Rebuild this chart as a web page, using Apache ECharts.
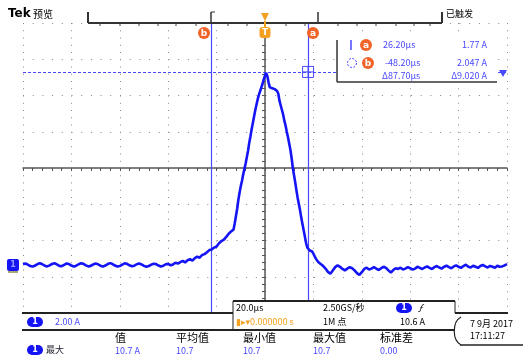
<!DOCTYPE html>
<html><head><meta charset="utf-8">
<script src="https://cdn.jsdelivr.net/npm/echarts@6/dist/echarts.min.js"></script>
<style>html,body{margin:0;padding:0;background:#fff}#c{width:523px;height:356px}</style>
</head><body><div id="c"></div>
<script>
// ---- data (time in µs, current in A) ----
const baselineBefore = [[-100,0.04],[-99,0.08],[-98,0.02],[-97,-0.06],[-96,-0.09],[-95,-0.03],[-94,0.05],[-93,0.09],[-92,0.04],[-91,-0.04],[-90,-0.08],[-89,-0.02],[-88,0.06],[-87,0.10],[-86,0.03],[-85,-0.05],[-84,-0.07],[-83,0.01],[-82,0.08],[-81,0.05],[-80,-0.03],[-79,-0.09],[-78,-0.04],[-77,0.04],[-76,0.09],[-75,0.06],[-74,-0.02],[-73,-0.08],[-72,-0.05],[-71,0.03],[-70,0.08],[-69,0.04],[-68,-0.04],[-67,-0.09],[-66,-0.03],[-65,0.05],[-64,0.10],[-63,0.05],[-62,-0.03],[-61,-0.08],[-60,-0.06],[-59,0.02],[-58,0.09],[-57,0.06],[-56,-0.02],[-55,-0.07],[-54,-0.04],[-53,0.04],[-52,0.08],[-51,0.03],[-50,-0.05],[-49,-0.10],[-48,-0.06],[-47,0.02],[-46,0.07],[-45,0.05],[-44,-0.03],[-43,-0.08],[-42,-0.04],[-41,0.04],[-40,0.06]];
const risingEdge = [[-39,-0.02],[-38,0.03],[-37,0.12],[-36,0.08],[-35,0.16],[-34,0.22],[-33,0.14],[-32,0.26],[-31,0.32],[-30,0.24],[-29,0.38],[-28,0.46],[-27,0.40],[-26,0.55],[-25,0.60],[-24,0.70],[-23,0.82],[-22,0.86],[-21,0.96],[-20,1.02],[-19,1.20],[-18,1.32],[-17,1.40],[-16,1.55],[-15,1.72],[-14,1.85],[-13,1.96],[-12.5,2.30],[-12,2.70],[-11.5,3.10],[-11,3.60],[-10.5,4.00],[-10,4.35],[-9.5,4.65],[-9,5.00],[-8.5,5.30],[-8,5.60],[-7.5,5.95],[-7,6.30],[-6.5,6.75],[-6,7.10],[-5.5,7.50],[-5,7.85],[-4.5,8.20],[-4,8.55],[-3.5,8.85],[-3,9.15],[-2.5,9.40],[-2,9.60],[-1.5,9.80],[-1,10.00],[-0.5,10.25],[0,10.45],[0.5,10.60]];
const fallingEdge = [[1,10.40],[1.5,10.05],[2,9.80],[2.5,9.90],[3,9.75],[3.5,9.85],[4,9.70],[4.5,9.75],[5,9.60],[5.5,9.45],[6,9.05],[6.5,8.80],[7,8.55],[7.5,8.30],[8,7.95],[8.5,7.70],[9,7.35],[9.5,7.05],[10,6.70],[10.5,6.35],[11,5.90],[11.5,5.35],[12,4.95],[12.5,4.55],[13,4.10],[13.5,3.70],[14,3.35],[14.5,3.00],[15,2.60],[15.5,2.25],[16,1.90],[16.5,1.55],[17,1.20],[17.5,0.95],[18,0.85],[18.5,0.80],[19,0.70],[19.5,0.74],[20,0.62],[20.5,0.52],[21,0.35],[21.5,0.30],[22,0.16]];
const baselineAfter = [[23,0.05],[24,-0.05],[25,-0.20],[26,-0.38],[27,-0.48],[28,-0.30],[29,-0.12],[30,-0.02],[31,-0.10],[32,-0.22],[33,-0.30],[34,-0.20],[35,-0.12],[36,-0.18],[37,-0.30],[38,-0.45],[39,-0.55],[40,-0.40],[41,-0.22],[42,-0.15],[43,-0.25],[44,-0.20],[45,-0.12],[46,-0.20],[47,-0.28],[48,-0.18],[49,-0.10],[50,-0.16],[51,-0.30],[52,-0.42],[53,-0.28],[54,-0.18],[55,-0.22],[56,-0.15],[57,-0.25],[58,-0.20],[59,-0.12],[60,-0.18],[61,-0.26],[62,-0.20],[63,-0.10],[64,-0.16],[65,-0.22],[66,-0.14],[67,-0.08],[68,-0.16],[69,-0.22],[70,-0.12],[71,-0.06],[72,-0.14],[73,-0.20],[74,-0.10],[75,-0.04],[76,-0.12],[77,-0.18],[78,-0.08],[79,-0.02],[80,-0.10],[81,-0.16],[82,-0.06],[83,0.02],[84,-0.10],[85,-0.14],[86,-0.04],[87,-0.10],[88,-0.16],[89,-0.06],[90,0.00],[91,-0.08],[92,-0.14],[93,-0.05],[94,-0.10],[95,-0.15],[96,-0.04],[97,-0.10],[98,-0.08],[99,-0.02],[100,0.05]];

const cursorTimes = [17.8, -22.3];      // cursor a, cursor b (µs)
const cursorLevel = 10.65;              // horizontal cursor (A)
const timeRange = [-100, 100];          // 20 µs / div
const divRange = [-4, 4];               // 8 vertical divisions
const ampRange = [-2.65, 13.35];        // 2 A / div, ground at 0 A

const statHeaders = ['值', '平均值', '最小值', '最大值', '标准差'];
const statValues = ['10.7 A', '10.7', '10.7', '10.7', '0.00'];

const trace = baselineBefore.concat(risingEdge, fallingEdge, baselineAfter);

const BLUE = '#1414f5', CUR = '#4848ff', ORG = '#f06428', TORG = '#f5a020';
const FONT = '"Noto Sans CJK SC","DejaVu Sans",sans-serif';
const chart = echarts.init(document.getElementById('c'), null, {renderer: 'canvas'});

function txt(x, y, s, o) {
  return Object.assign({type: 'text', x: x, y: y, z: 110,
    style: Object.assign({text: s, fill: '#000', font: '10px ' + FONT, textVerticalAlign: 'middle'}, o || {})});
}
function ln(x1, y1, x2, y2, c, w, dash) {
  return {type: 'line', z: 100, shape: {x1: x1, y1: y1, x2: x2, y2: y2},
    style: {stroke: c || '#000', lineWidth: w || 1, lineDash: dash || null}};
}
function badge(cx, cy, letter, color) {
  return [{type: 'circle', z: 101, shape: {cx: cx, cy: cy, r: 6}, style: {fill: color}},
    txt(cx, cy + 0.5, letter, {fill: '#fff', font: 'bold 9px "DejaVu Sans",sans-serif', textAlign: 'center'})];
}

const g = [];
// top record bar
g.push(ln(88, 23, 442, 23, '#333', 2));
g.push(ln(88, 12, 88, 23, '#333', 2), ln(442, 12, 442, 23, '#333', 2));
g.push(ln(211, 12, 211, 23, '#333', 1.5), ln(211, 12, 215, 12, '#333', 1));
g.push(ln(318, 12, 318, 23, '#333', 1.5));
[100, 120, 139, 158, 176, 196, 228, 247, 286, 305, 338, 357, 376, 396, 414, 430].forEach(function (x) { g.push(ln(x, 23, x, 26, '#444', 1)); });
g.push(txt(8, 14, 'Tek', {font: 'bold 12px "DejaVu Sans",sans-serif'}));
g.push(txt(33, 14, '预览', {font: '10px ' + FONT}));
g.push(txt(446, 14, '已触发', {font: '9px ' + FONT}));
// trigger marker
g.push({type: 'polygon', z: 101, shape: {points: [[261, 13], [269, 13], [265, 21]]}, style: {fill: TORG}});
g.push(ln(265, 21, 265, 27, TORG, 2));
g.push({type: 'rect', z: 101, shape: {x: 259.5, y: 27, width: 11, height: 11, r: 3}, style: {fill: TORG}});
g.push(txt(265, 33, 'T', {fill: '#fff', font: 'bold 9px "DejaVu Sans",sans-serif', textAlign: 'center'}));
Array.prototype.push.apply(g, badge(204, 33, 'b', ORG));
Array.prototype.push.apply(g, badge(313, 33, 'a', ORG));
// cursor readout box
g.push({type: 'rect', z: 99, shape: {x: 337, y: 35, width: 160, height: 47}, style: {fill: '#fff'}});
g.push(ln(337, 40, 337, 82, '#333', 1.5), ln(337, 82, 497, 82, '#333', 1.5));
g.push(ln(351, 40, 351, 50, CUR, 1.5));
Array.prototype.push.apply(g, badge(366, 45, 'a', ORG));
g.push({type: 'circle', z: 100, shape: {cx: 352, cy: 63, r: 4.5}, style: {fill: 'none', stroke: CUR, lineWidth: 1, lineDash: [2, 1.5]}});
Array.prototype.push.apply(g, badge(368, 63, 'b', ORG));
g.push(txt(383, 45, '26.20µs', {fill: CUR, font: '9px ' + FONT}));
g.push(txt(487, 45, '1.77 A', {fill: CUR, font: '9px ' + FONT, textAlign: 'right'}));
g.push(txt(385, 63, '-48.20µs', {fill: CUR, font: '9px ' + FONT}));
g.push(txt(487, 63, '2.047 A', {fill: CUR, font: '9px ' + FONT, textAlign: 'right'}));
g.push(txt(382, 76, 'Δ87.70µs', {fill: CUR, font: '9px ' + FONT}));
g.push(txt(487, 76, 'Δ9.020 A', {fill: CUR, font: '9px ' + FONT, textAlign: 'right'}));
g.push({type: 'polygon', z: 101, shape: {points: [[499, 70], [507, 70], [503, 77]]}, style: {fill: CUR}});
// bottom readout
g.push({type: 'rect', z: 99, shape: {x: 233, y: 301, width: 222, height: 29}, style: {fill: '#fff'}});
g.push(ln(22, 313, 233, 313, '#222', 2), ln(233, 301, 455, 301, '#222', 2), ln(455, 313, 508, 313, '#222', 2));
g.push(ln(22, 330, 455, 330, '#222', 2), ln(233, 301, 233, 330, '#222', 1), ln(455, 301, 455, 313, '#222', 1));
g.push(txt(236, 308, '20.0µs', {font: '9px ' + FONT}));
g.push(txt(323, 308, '2.50GS/秒', {font: '9px ' + FONT}));
g.push({type: 'rect', z: 100, shape: {x: 396, y: 303, width: 16, height: 10, r: 5}, style: {fill: BLUE}});
g.push(txt(404, 308, '1', {fill: '#fff', font: 'bold 8px "DejaVu Sans",sans-serif', textAlign: 'center'}));
g.push(txt(418, 308, 'ƒ', {font: 'italic 9px ' + FONT}));
g.push(txt(236, 322, '▮▸▾0.000000 s', {fill: TORG, font: '9px ' + FONT}));
g.push(txt(323, 322, '1M 点', {font: '9px ' + FONT}));
g.push(txt(400, 322, '10.6 A', {font: '9px ' + FONT}));
g.push({type: 'rect', z: 100, shape: {x: 27, y: 317, width: 16, height: 10, r: 5}, style: {fill: BLUE}});
g.push(txt(35, 322, '1', {fill: '#fff', font: 'bold 8px "DejaVu Sans",sans-serif', textAlign: 'center'}));
g.push(txt(55, 322, '2.00 A', {fill: CUR, font: '9px ' + FONT}));
// stats row
const statX = [115, 176, 243, 313, 380];
statHeaders.forEach(function (s, i) { g.push(txt(statX[i], 338, s, {font: '11px ' + FONT})); });
statValues.forEach(function (s, i) { g.push(txt(statX[i], 351, s, {fill: CUR, font: '9px ' + FONT})); });
g.push({type: 'rect', z: 100, shape: {x: 27, y: 345, width: 16, height: 10, r: 5}, style: {fill: BLUE}});
g.push(txt(35, 350, '1', {fill: '#fff', font: 'bold 8px "DejaVu Sans",sans-serif', textAlign: 'center'}));
g.push(txt(46, 350, '最大', {fill: '#223', font: '9px ' + FONT}));
// date
g.push({type: 'bezierCurve', z: 100, shape: {x1: 461, y1: 317, x2: 461, y2: 345, cpx1: 452, cpy1: 322, cpx2: 452, cpy2: 340}, style: {stroke: '#222', lineWidth: 1.2, fill: 'none'}});
g.push(ln(460, 345, 523, 345, '#222', 1.5));
g.push(txt(470, 324, '7 9月 2017', {font: '9px ' + FONT}));
g.push(txt(470, 336, '17:11:27', {font: '9px ' + FONT}));

const option = {
  animation: false,
  backgroundColor: '#fff',
  grid: {left: 23, right: 16, top: 23, bottom: 43},
  xAxis: [{
    type: 'value', min: timeRange[0], max: timeRange[1], interval: 20,
    axisLabel: {show: false},
    axisLine: {onZero: true, onZeroAxisIndex: 0, lineStyle: {color: '#555', width: 1.5}},
    axisTick: {show: true, length: 3, lineStyle: {color: '#555'}},
    minorTick: {show: true, splitNumber: 5, length: 3, lineStyle: {color: '#555'}},
    splitLine: {show: true, lineStyle: {color: '#888', width: 1, type: [1, 6.25]}}
  }],
  yAxis: [{
    type: 'value', min: divRange[0], max: divRange[1], interval: 1,
    axisLabel: {show: false},
    axisLine: {onZero: true, lineStyle: {color: '#555', width: 1.5}},
    axisTick: {show: true, length: 3, lineStyle: {color: '#555'}},
    minorTick: {show: true, splitNumber: 5, length: 3, lineStyle: {color: '#555'}},
    splitLine: {show: true, lineStyle: {color: '#888', width: 1, type: [1, 8.7]}}
  }, {
    type: 'value', min: ampRange[0], max: ampRange[1], show: false, splitLine: {show: false}
  }],
  series: [{
    type: 'line', xAxisIndex: 0, yAxisIndex: 1, data: trace, showSymbol: false,
    lineStyle: {color: BLUE, width: 2.6}, z: 10,
    markLine: {
      silent: true, symbol: 'none', label: {show: false},
      data: [
        {xAxis: cursorTimes[0], lineStyle: {color: CUR, width: 1.2, type: 'solid'}},
        {xAxis: cursorTimes[1], lineStyle: {color: CUR, width: 1.2, type: 'solid'}},
        {yAxis: cursorLevel, lineStyle: {color: CUR, width: 1, type: [3, 2]}}
      ]
    },
    markPoint: {
      silent: true, symbol: 'path://M0,0H10V10H0ZM5,0V10M0,5H10', symbolSize: 11,
      itemStyle: {color: 'transparent', borderColor: CUR, borderWidth: 1},
      label: {show: false},
      data: [{coord: [cursorTimes[0], cursorLevel]}]
    }
  }],
  graphic: g
};
chart.setOption(option);
// channel ground marker at 0 A
const p = chart.convertToPixel({xAxisIndex: 0, yAxisIndex: 1}, [timeRange[0], 0]);
chart.setOption({graphic: g.concat([
  {type: 'rect', z: 101, shape: {x: 7, y: p[1] - 6, width: 12, height: 12, r: 2}, style: {fill: BLUE}},
  {type: 'rect', z: 101, shape: {x: 8, y: p[1] + 6, width: 10, height: 2}, style: {fill: '#a8a870'}},
  txt(13, p[1], '1', {fill: '#99f', font: 'bold 8px "DejaVu Sans",sans-serif', textAlign: 'center'})
])});
</script></body></html>
